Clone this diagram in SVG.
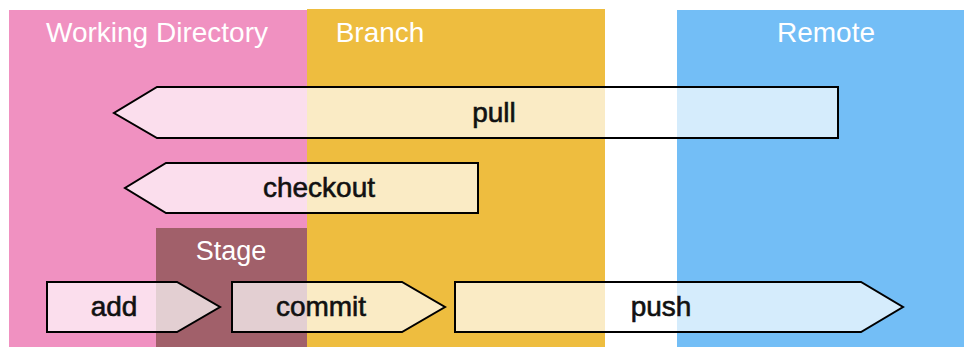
<svg xmlns="http://www.w3.org/2000/svg" width="964" height="347" viewBox="0 0 964 347">
<style>
.lane{stroke:none}
.lt{font-family:"Liberation Sans",Arial,sans-serif;font-size:28px;fill:#ffffff;text-anchor:middle}
.arrow{fill:#ffffff;fill-opacity:0.7;stroke:#000000;stroke-width:2;stroke-linejoin:miter}
.at{font-family:"Liberation Sans",Arial,sans-serif;font-size:28px;fill:#111111;stroke:#111111;stroke-width:0.6;text-anchor:middle}
</style>
<rect width="964" height="347" fill="#ffffff"/>
<g id="working-directory">
<rect class="lane" x="9" y="10" width="298" height="337" fill="#f091c1"/>
<text class="lt" x="157" y="42">Working Directory</text>
</g>
<g id="branch">
<rect class="lane" x="307" y="9" width="298" height="338" fill="#eebd3f"/>
<text class="lt" x="380" y="42">Branch</text>
</g>
<g id="remote">
<rect class="lane" x="677" y="10" width="287" height="337" fill="#73bef6"/>
<text class="lt" x="826" y="42">Remote</text>
</g>
<g id="stage">
<rect class="lane" x="156" y="228" width="151" height="119" fill="#a1606a"/>
<text class="lt" x="231" y="260" style="font-size:27px">Stage</text>
</g>
<g id="connectors">
<g id="pull">
<polygon class="arrow" points="838,87 157,87 114,113 157,138 838,138"/>
<text class="at" x="494" y="122">pull</text>
</g>
<g id="checkout">
<polygon class="arrow" points="478,163 166,163 125,188 166,213 478,213"/>
<text class="at" x="319" y="197">checkout</text>
</g>
<g id="add">
<polygon class="arrow" points="47,282 177,282 220,307 177,332 47,332"/>
<text class="at" x="114" y="316">add</text>
</g>
<g id="commit">
<polygon class="arrow" points="232,282 402,282 445,307 402,332 232,332"/>
<text class="at" x="321" y="316">commit</text>
</g>
<g id="push">
<polygon class="arrow" points="455,282 861,282 903,307 861,332 455,332"/>
<text class="at" x="661" y="316">push</text>
</g>
</g>
</svg>
